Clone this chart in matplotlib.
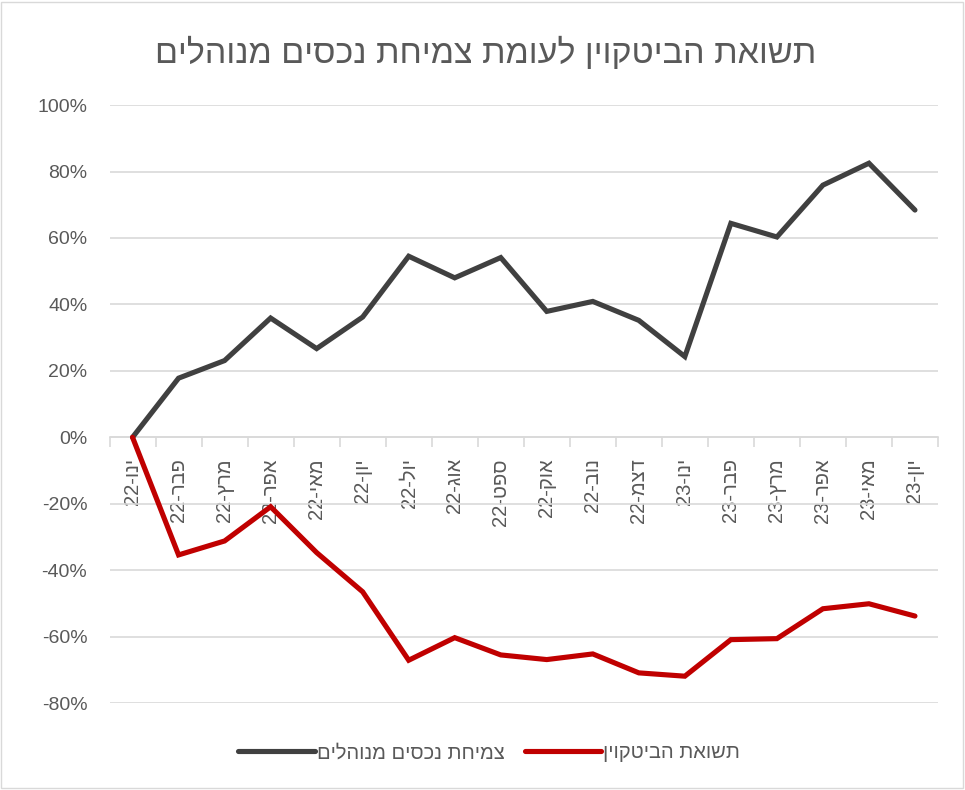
import matplotlib
matplotlib.use("Agg")
import matplotlib.pyplot as plt
from matplotlib.patches import Rectangle

plt.rcParams['font.family'] = ['Liberation Sans', 'DejaVu Sans']

# data (percent)
months = ["ינו", "פבר", "מרץ", "אפר", "מאי", "יון", "יול", "אוג", "ספט",
          "אוק", "נוב", "דצמ", "ינו", "פבר", "מרץ", "אפר", "מאי", "יון"]
years = ["22"] * 12 + ["23"] * 6
aum_growth = [0, 17.8, 23.1, 35.9, 26.7, 36.2, 54.5, 48.0, 54.1,
              37.9, 40.9, 35.2, 24.3, 64.4, 60.3, 75.9, 82.5, 68.4]
btc_return = [0, -35.4, -31.2, -20.9, -34.7, -46.5, -67.1, -60.3, -65.5,
              -66.9, -65.2, -70.9, -71.9, -60.9, -60.6, -51.6, -50.1, -53.8]
yticks = [-80, -60, -40, -20, 0, 20, 40, 60, 80, 100]

title = "תשואת הביטקוין לעומת צמיחת נכסים מנוהלים"
name_aum = "צמיחת נכסים מנוהלים"
name_btc = "תשואת הביטקוין"


def vis(s):
    # matplotlib has no bidi, so flip hebrew text to visual order
    return s[::-1]


# "ינו-22" shown rtl -> "22-" then hebrew reversed
xlabels = [y + "-" + vis(m) for m, y in zip(months, years)]

txt = "#595959"
grid = "#d9d9d9"

fig = plt.figure(figsize=(9.65, 7.9), dpi=100)
ax = fig.add_axes([0.1135, 0.110, 0.8585, 0.757])

x = list(range(len(months)))
ax.plot(x, aum_growth, color="#404040", lw=3.7, solid_capstyle="round",
        solid_joinstyle="miter", label=vis(name_aum), zorder=3)
ax.plot(x, btc_return, color="#c00000", lw=3.7, solid_capstyle="round",
        solid_joinstyle="miter", label=vis(name_btc), zorder=3)

ax.set_xlim(-0.5, len(months) - 0.5)
ax.set_ylim(-80, 100)
ax.set_yticks(yticks)
ax.set_yticklabels([f"{v}%" for v in yticks])
ax.yaxis.grid(True, color=grid, lw=1.2)
ax.set_axisbelow(True)
ax.tick_params(axis="y", length=0, labelsize=14, labelcolor=txt, pad=16)

for s in ["top", "right", "left"]:
    ax.spines[s].set_visible(False)
ax.spines["bottom"].set_position(("data", 0))
ax.spines["bottom"].set_color(grid)
ax.spines["bottom"].set_linewidth(1.2)

ax.set_xticks(x)
ax.set_xticklabels(xlabels, rotation=90)
ax.set_xticks([i - 0.5 for i in range(len(months) + 1)], minor=True)
ax.tick_params(axis="x", which="major", length=0, labelsize=14.5,
               labelcolor=txt, pad=15)
ax.tick_params(axis="x", which="minor", length=7, color=grid, width=1.2)

fig.text(0.503, 0.933, vis(title), ha="center", va="center",
         fontsize=24.5, color=txt)

leg = fig.legend(loc="center", bbox_to_anchor=(0.507, 0.047), ncol=2,
                 frameon=False, fontsize=14.5, handlelength=3.8,
                 handletextpad=0.1, columnspacing=1.0)
for t in leg.get_texts():
    t.set_color(txt)

fig.patches.append(Rectangle((0.001, 0.002), 0.997, 0.996,
                             transform=fig.transFigure, fill=False,
                             edgecolor=grid, lw=1))

fig.savefig("out.png", dpi=100)
